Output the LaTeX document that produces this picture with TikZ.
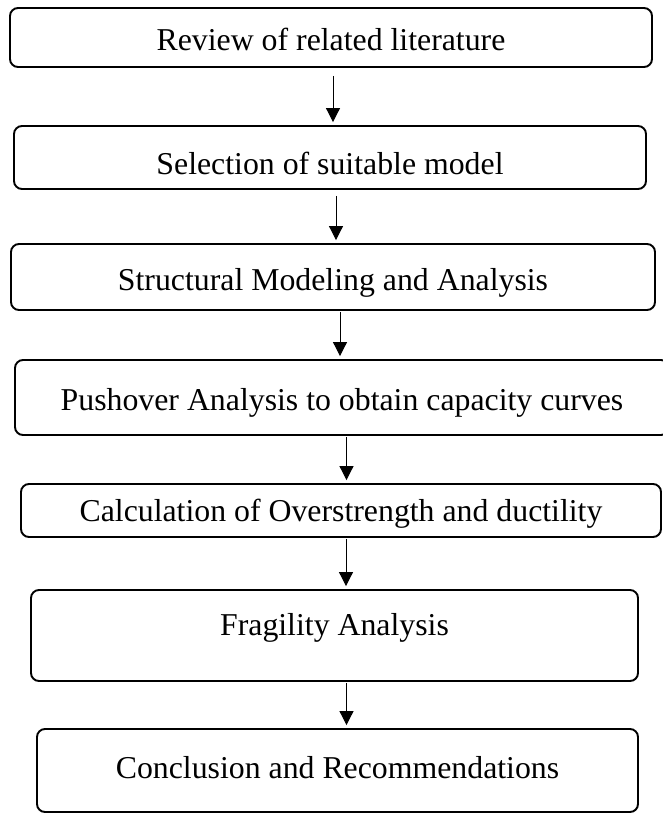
\documentclass[tikz,border=0pt]{standalone}
\usepackage{fontspec}
\setmainfont{Liberation Serif}
\usetikzlibrary{arrows.meta}
\begin{document}
\begin{tikzpicture}[x=1pt, y=-1pt,
  stage/.style={draw, line width=1.9pt, rounded corners=8pt, inner sep=0pt, font=\fontsize{31.8}{38}\selectfont},
  flow/.style={line width=1pt, shorten >=3pt, -{Triangle[length=14pt, width=14pt]}}]
\useasboundingbox (0,0) rectangle (662,814);
% Stages, top to bottom
\node[stage, minimum width=642pt, text height=42.5pt, text depth=16.5pt] (review) at (331,37.5) {Review of related literature};
\node[stage, minimum width=632pt, text height=48.5pt, text depth=14.5pt] (model) at (330,157.5) {Selection of suitable model};
\node[stage, minimum width=644pt, text height=46.5pt, text depth=19.5pt] (modeling) at (333,277) {Structural Modeling and Analysis};
\node[stage, minimum width=654pt, text height=50.5pt, text depth=24.5pt] (pushover) at (342,397.5) {Pushover Analysis to obtain capacity curves};
\node[stage, minimum width=640pt, text height=37.5pt, text depth=15.5pt] (ductility) at (341,510.5) {Calculation of Overstrength and ductility};
\node[stage, minimum width=607pt, text height=45.5pt, text depth=45.5pt] (fragility) at (334.5,635.5) {Fragility Analysis};
\node[stage, minimum width=601pt, text height=49.5pt, text depth=33.5pt] (conclusion) at (337.5,770.5) {Conclusion and Recommendations};
% Arrows between stages
\foreach \a/\b/\dx/\gap in {review/model/2/8, model/modeling/6/6, modeling/pushover/7/1, pushover/ductility/4.5/1, ductility/fragility/5/1, fragility/conclusion/12/1}
  \draw[flow, shorten <=\gap pt] ([xshift=\dx pt]\a.south) -- ([xshift=\dx pt]\a.south |- \b.north);
\end{tikzpicture}
\end{document}
